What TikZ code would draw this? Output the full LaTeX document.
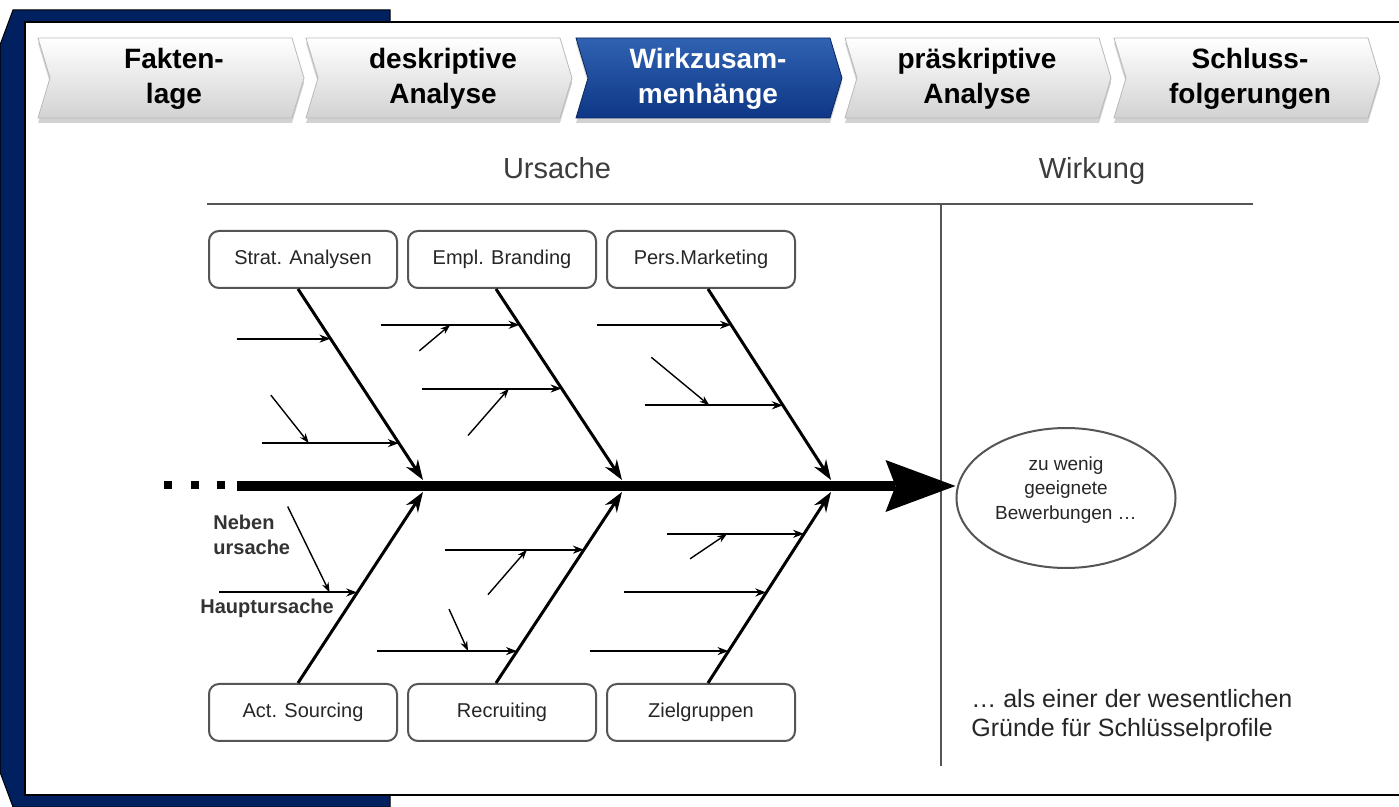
\documentclass[tikz,border=0pt]{standalone}
\usepackage{fontspec}
\setmainfont{Liberation Sans}
\usetikzlibrary{arrows.meta,shapes.geometric,shadows}

\definecolor{navy}{RGB}{0,32,96}
\definecolor{chevtop}{RGB}{48,98,178}
\definecolor{chevbot}{RGB}{14,54,134}
\definecolor{linegray}{RGB}{85,85,85}
\definecolor{textgray}{RGB}{60,60,60}

\tikzset{
  chev/.style={draw=gray!55, top color=white, bottom color=gray!35,
    drop shadow={shadow xshift=0pt, shadow yshift=-2.5pt, opacity=0.35}},
  chevon/.style={draw=chevbot!70!black, top color=chevtop, bottom color=chevbot,
    drop shadow={shadow xshift=0pt, shadow yshift=-2.5pt, opacity=0.35}},
  chevtext/.style={font=\fontsize{14}{17.5}\selectfont\bfseries, align=center},
  cause/.style={draw=linegray, line width=1pt, rounded corners=5pt,
    minimum width=94pt, minimum height=28.5pt,
    font=\fontsize{10}{12}\selectfont, text=black!85},
  bone/.style={line width=1.5pt, -{Stealth[length=10pt,width=7pt]}},
  sub/.style={line width=1pt, -{Stealth[length=5.5pt,width=4pt]}},
  twig/.style={line width=0.7pt, -{Stealth[length=5pt,width=3.5pt]}},
  note/.style={anchor=west, inner sep=0pt, align=left},
  head/.style={anchor=base, font=\fontsize{14.5}{17}\selectfont, text=textgray},
}

\begin{document}
\begin{tikzpicture}[x=0.5pt, y=-0.5pt]
  \useasboundingbox (0,0) rectangle (1399,807);

  \filldraw[fill=navy, draw=black, line width=0.5pt] (13,10) -- (390,10) -- (390,807) -- (13,807) -- (0,772) -- (0,45) -- cycle;
  \filldraw[fill=white, draw=black, line width=1pt] (25,22) rectangle (1410,795);

  % process steps
  \foreach \l in {38,306,845,1114}
    \path[chev] (\l,38) -- (\l+254,38) -- (\l+266,78) -- (\l+254,118) -- (\l,118) -- (\l+12,78) -- cycle;
  \path[chevon] (576,38) -- (830,38) -- (842,78) -- (830,118) -- (576,118) -- (588,78) -- cycle;

  \node[chevtext] (fakten) at (174,79) {Fakten-\\lage};
  \node[chevtext] (deskr) at (443,79) {deskriptive\\Analyse};
  \node[chevtext, text=white] (wirkz) at (708,79) {Wirkzusam-\\menhänge};
  \node[chevtext] (praeskr) at (977,79) {präskriptive\\Analyse};
  \node[chevtext] (schluss) at (1250,79) {Schluss-\\folgerungen};

  % header
  \node[head] (ursache) at (557,179) {Ursache};
  \node[head] (wirkung) at (1092,179) {Wirkung};
  \draw[linegray, line width=1.2pt] (207,204) -- (1253,204);
  \draw[linegray, line width=1pt] (941,204) -- (941,766);

  % causes
  \node[cause] (strat) at (303,259.5) {Strat. Analysen};
  \node[cause] (empl) at (502,259.5) {Empl. Branding};
  \node[cause] (pers) at (701,259.5) {Pers.Marketing};
  \node[cause] (act) at (303,712.5) {Act. Sourcing};
  \node[cause] (recr) at (502,712.5) {Recruiting};
  \node[cause] (ziel) at (701,712.5) {Zielgruppen};

  \node[ellipse, draw=linegray, line width=1pt, minimum width=109.5pt, minimum height=70pt,
    align=center, text depth=10pt, font=\fontsize{9.5}{12.25}\selectfont, text=black!85] (effect) at (1066,498) {zu wenig\\geeignete\\Bewerbungen …};

  % spine
  \coordinate (tail) at (237,486);
  \coordinate (j1) at (423,486);
  \coordinate (j2) at (622,486);
  \coordinate (j3) at (831,486);
  \foreach \x in {168,195,221}
    \fill (\x-4,481) rectangle (\x+4,489);
  \draw[line width=5pt, -{Stealth[length=35pt,width=26pt,inset=5pt,line width=0pt]}] (tail) -- (tail -| effect.west);

  % upper bones
  \draw[bone] ([xshift=-2.5pt]strat.south) -- coordinate[pos=0.26] (b1a) coordinate[pos=0.807] (b1b) ([yshift=3pt]j1);
  \draw[sub] ([xshift=-47pt]b1a) -- (b1a);
  \draw[sub] ([xshift=-68.5pt]b1b) -- coordinate[pos=0.343] (t1) (b1b);
  \draw[twig] ([shift={(-19pt,24pt)}]t1) -- (t1);

  \draw[bone] ([xshift=-3pt]empl.south) -- coordinate[pos=0.1875] (b2a) coordinate[pos=0.521] (b2b) ([yshift=3pt]j2);
  \draw[sub] ([xshift=-69.3pt]b2a) -- coordinate[pos=0.5] (t2) (b2a);
  \draw[twig] ([shift={(-15.5pt,-13pt)}]t2) -- (t2);
  \draw[sub] ([xshift=-69.8pt]b2b) -- coordinate[pos=0.623] (t3) (b2b);
  \draw[twig] ([shift={(-20.5pt,-23.5pt)}]t3) -- (t3);

  \draw[bone] ([xshift=3.5pt]pers.south) -- coordinate[pos=0.1875] (b3a) coordinate[pos=0.609] (b3b) ([yshift=3pt]j3);
  \draw[sub] ([xshift=-67pt]b3a) -- (b3a);
  \draw[sub] ([xshift=-68.75pt]b3b) -- coordinate[pos=0.465] (t4) (b3b);
  \draw[twig] ([shift={(-29pt,24pt)}]t4) -- (t4);

  % lower bones
  \draw[bone] ([xshift=-2.5pt]act.north) -- coordinate[pos=0.474] (b4a) ([yshift=-3pt]j1);
  \draw[sub] ([xshift=-69pt]b4a) -- coordinate[pos=0.80] (t5) (b4a);
  \draw[twig] ([shift={(-21pt,43pt)}]t5) -- (t5);

  \draw[bone] ([xshift=-3pt]recr.north) -- coordinate[pos=0.167] (b5a) coordinate[pos=0.698] (b5b) ([yshift=-3pt]j2);
  \draw[sub] ([xshift=-69.5pt]b5b) -- coordinate[pos=0.59] (t6) (b5b);
  \draw[twig] ([shift={(-19.5pt,-22.5pt)}]t6) -- (t6);
  \draw[sub] ([xshift=-70pt]b5a) -- coordinate[pos=0.65] (t7) (b5a);
  \draw[twig] ([shift={(-9.5pt,21pt)}]t7) -- (t7);

  \draw[bone] ([xshift=3.5pt]ziel.north) -- coordinate[pos=0.167] (b6a) coordinate[pos=0.474] (b6b) coordinate[pos=0.781] (b6c) ([yshift=-3pt]j3);
  \draw[sub] ([xshift=-68.5pt]b6c) -- coordinate[pos=0.438] (t8) (b6c);
  \draw[twig] ([shift={(-18.5pt,-12.5pt)}]t8) -- (t8);
  \draw[sub] ([xshift=-71pt]b6b) -- (b6b);
  \draw[sub] ([xshift=-69.5pt]b6a) -- (b6a);

  % legend
  \node[note, font=\fontsize{10}{12.5}\selectfont\bfseries, text=black!80] (neben) at (213,534.5) {Neben\\ursache};
  \node[note, font=\fontsize{10}{12.5}\selectfont\bfseries, text=black!80] (haupt) at (200,608) {Hauptursache};

  \node[note, font=\fontsize{12.5}{14.5}\selectfont, text=black!85] (reason) at (971,716) {… als einer der wesentlichen\\Gründe für Schlüsselprofile};
\end{tikzpicture}
\end{document}
